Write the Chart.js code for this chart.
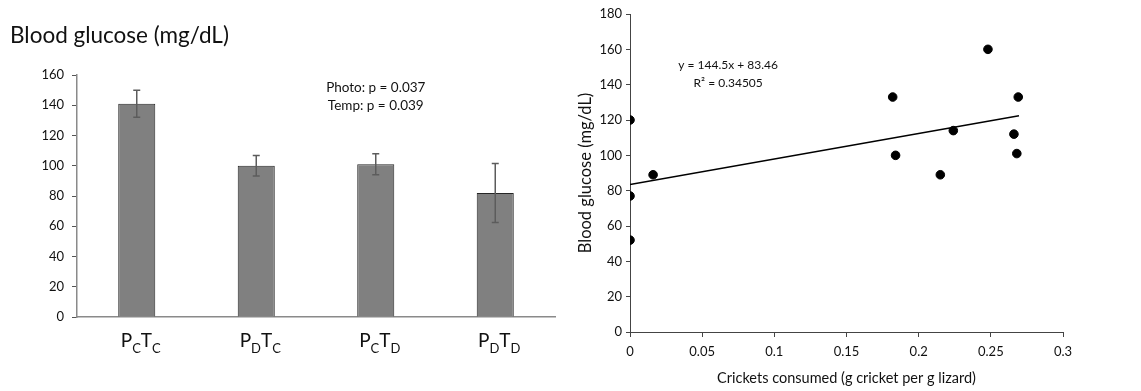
<!DOCTYPE html>
<html>
<head>
<meta charset="utf-8">
<script src="https://cdn.jsdelivr.net/npm/chart.js@4.4.1/dist/chart.umd.min.js"></script>
<style>
html, body { margin: 0; padding: 0; background: #fff; }
#wrap { position: relative; width: 1141px; height: 391px; }
#barBox { position: absolute; left: 0; top: 0; width: 560px; height: 391px; }
#scatterBox { position: absolute; left: 560px; top: 0; width: 581px; height: 391px; }
</style>
</head>
<body>
<div id="wrap">
  <div id="barBox"><canvas id="barCanvas"></canvas></div>
  <div id="scatterBox"><canvas id="scatterCanvas"></canvas></div>
</div>
<script>
// left panel: treatment groups (P = photoperiod, T = temperature)
let groups = ["PCTC", "PDTC", "PCTD", "PDTD"];
let photoSub = ["C", "D", "C", "D"];
let tempSub = ["C", "C", "D", "D"];
let glucoseMean = [141, 100, 101, 82];
let glucoseErr = [9, 6.7, 7, 19.5];
let barYMax = 160;
let barYStep = 20;
let pLines = ["Photo: p = 0.037", "Temp: p = 0.039"];

// right panel: crickets eaten vs glucose
let crickets = [0, 0.016, 0, 0, 0.182, 0.184, 0.215, 0.224, 0.248, 0.266, 0.268, 0.269];
let glucose = [120, 89, 77, 52, 133, 100, 89, 114, 160, 112, 101, 133];
let trendX = [0, 0.2695];
let trendY = [83.46, 122.4];
let fitLines = ["y = 144.5x + 83.46", "R\u00B2 = 0.34505"];
let scatterXTicks = [0, 0.3, 0.05];
let scatterYTicks = [0, 180, 20];

let font = "Lato";

let barExtras = {
    id: "barExtras",
    afterDatasetsDraw(chart) {
        let ctx = chart.ctx;
        let x = chart.scales.x;
        let y = chart.scales.y;
        let meta = chart.getDatasetMeta(0);

        // error bars
        ctx.save();
        ctx.strokeStyle = "#5c5c5c";
        ctx.lineWidth = 1.5;
        meta.data.forEach((bar, i) => {
            let top = y.getPixelForValue(glucoseMean[i] + glucoseErr[i]);
            let bottom = y.getPixelForValue(glucoseMean[i] - glucoseErr[i]);
            ctx.beginPath();
            ctx.moveTo(bar.x, top);
            ctx.lineTo(bar.x, bottom);
            ctx.moveTo(bar.x - 3.5, top);
            ctx.lineTo(bar.x + 3.5, top);
            ctx.moveTo(bar.x - 3.5, bottom);
            ctx.lineTo(bar.x + 3.5, bottom);
            ctx.stroke();
        });

        // category labels with subscripts
        ctx.fillStyle = "#111";
        ctx.textBaseline = "alphabetic";
        ctx.textAlign = "left";
        let big = "19px " + font;
        let small = "13px " + font;
        groups.forEach((g, i) => {
            let parts = [["P", big, 0], [photoSub[i], small, 6], ["T", big, 0], [tempSub[i], small, 6]];
            let total = 0;
            parts.forEach(p => { ctx.font = p[1]; total += ctx.measureText(p[0]).width; });
            let cx = x.getPixelForValue(i) - total / 2 + 4;
            let base = y.bottom + 30;
            parts.forEach(p => {
                ctx.font = p[1];
                ctx.fillText(p[0], cx, base + p[2]);
                cx += ctx.measureText(p[0]).width;
            });
        });

        // p-values
        ctx.font = "13.5px " + font;
        ctx.textAlign = "center";
        ctx.textBaseline = "middle";
        ctx.fillText(pLines[0], x.getPixelForValue(2), y.getPixelForValue(151.6));
        ctx.fillText(pLines[1], x.getPixelForValue(2), y.getPixelForValue(139.7));
        ctx.restore();
    }
};

let scatterExtras = {
    id: "scatterExtras",
    afterDatasetsDraw(chart) {
        let ctx = chart.ctx;
        let x = chart.scales.x;
        let y = chart.scales.y;
        ctx.save();
        ctx.fillStyle = "#111";
        ctx.font = "12px " + font;
        ctx.textAlign = "center";
        ctx.textBaseline = "middle";
        ctx.fillText(fitLines[0], x.getPixelForValue(0.068), y.getPixelForValue(151.1));
        ctx.fillText(fitLines[1], x.getPixelForValue(0.068), y.getPixelForValue(140.7));
        ctx.restore();
    }
};

let barChart = new Chart(document.getElementById("barCanvas").getContext("2d"), {
    type: "bar",
    data: {
        labels: groups,
        datasets: [
            {
                label: "Blood glucose",
                data: glucoseMean,
                backgroundColor: "#808080",
                borderColor: "#262626",
                borderWidth: 1,
                categoryPercentage: 1,
                barPercentage: 0.31,
            },
        ]
    },
    options: {
        responsive: true,
        maintainAspectRatio: false,
        animation: false,
        layout: { padding: { left: 10, right: 5, top: 0, bottom: 0 } },
        plugins: {
            legend: { display: false },
            tooltip: { enabled: false },
            title: {
                display: true,
                text: "Blood glucose (mg/dL)",
                align: "start",
                color: "#111",
                font: { family: font, size: 22.5, weight: "normal" },
                padding: { top: 22, bottom: 26 },
            },
        },
        scales: {
            x: {
                grid: { display: false },
                border: { color: "#8a8a8a", width: 1.5 },
                ticks: { display: false },
                afterFit(s) { s.height = 74; },
            },
            y: {
                min: 0,
                max: barYMax,
                ticks: { stepSize: barYStep, color: "#111", font: { family: font, size: 13 }, padding: 8 },
                grid: { drawOnChartArea: false, tickLength: 5, color: "#555" },
                border: { color: "#8a8a8a", width: 1.5 },
                afterFit(s) { s.width = 67; },
            },
        },
    },
    plugins: [barExtras],
});

let scatterChart = new Chart(document.getElementById("scatterCanvas").getContext("2d"), {
    type: "scatter",
    data: {
        datasets: [
            {
                label: "Lizards",
                data: crickets.map((c, i) => ({ x: c, y: glucose[i] })),
                backgroundColor: "#000",
                borderColor: "#000",
                pointRadius: 4.3,
            },
            {
                type: "line",
                label: "Linear fit",
                data: trendX.map((c, i) => ({ x: c, y: trendY[i] })),
                borderColor: "#000",
                borderWidth: 1.5,
                pointRadius: 0,
                fill: false,
            },
        ]
    },
    options: {
        responsive: true,
        maintainAspectRatio: false,
        animation: false,
        layout: { padding: { left: 0, right: 78, top: 14, bottom: 0 } },
        plugins: {
            legend: { display: false },
            tooltip: { enabled: false },
        },
        scales: {
            x: {
                type: "linear",
                min: scatterXTicks[0],
                max: scatterXTicks[1],
                ticks: {
                    stepSize: scatterXTicks[2],
                    color: "#111",
                    font: { family: font, size: 13 },
                    padding: 7,
                    callback: v => String(Number(v.toFixed(2))),
                },
                grid: { drawOnChartArea: false, tickLength: 5, color: "#444" },
                border: { color: "#444", width: 1 },
                title: {
                    display: true,
                    text: "Crickets consumed (g cricket per g lizard)",
                    color: "#111",
                    font: { family: font, size: 14.5 },
                    padding: { top: 0, bottom: 4 },
                },
                afterFit(s) { s.height = 59; },
            },
            y: {
                min: scatterYTicks[0],
                max: scatterYTicks[1],
                ticks: { stepSize: scatterYTicks[2], color: "#111", font: { family: font, size: 13 }, padding: 4 },
                grid: { drawOnChartArea: false, tickLength: 4, color: "#444" },
                border: { color: "#444", width: 1 },
                title: {
                    display: true,
                    text: "Blood glucose (mg/dL)",
                    color: "#111",
                    font: { family: font, size: 16.5 },
                    padding: { top: 16, bottom: 0 },
                },
                afterFit(s) { s.width = 70; },
            },
        },
    },
    plugins: [scatterExtras],
});
</script>
</body>
</html>
